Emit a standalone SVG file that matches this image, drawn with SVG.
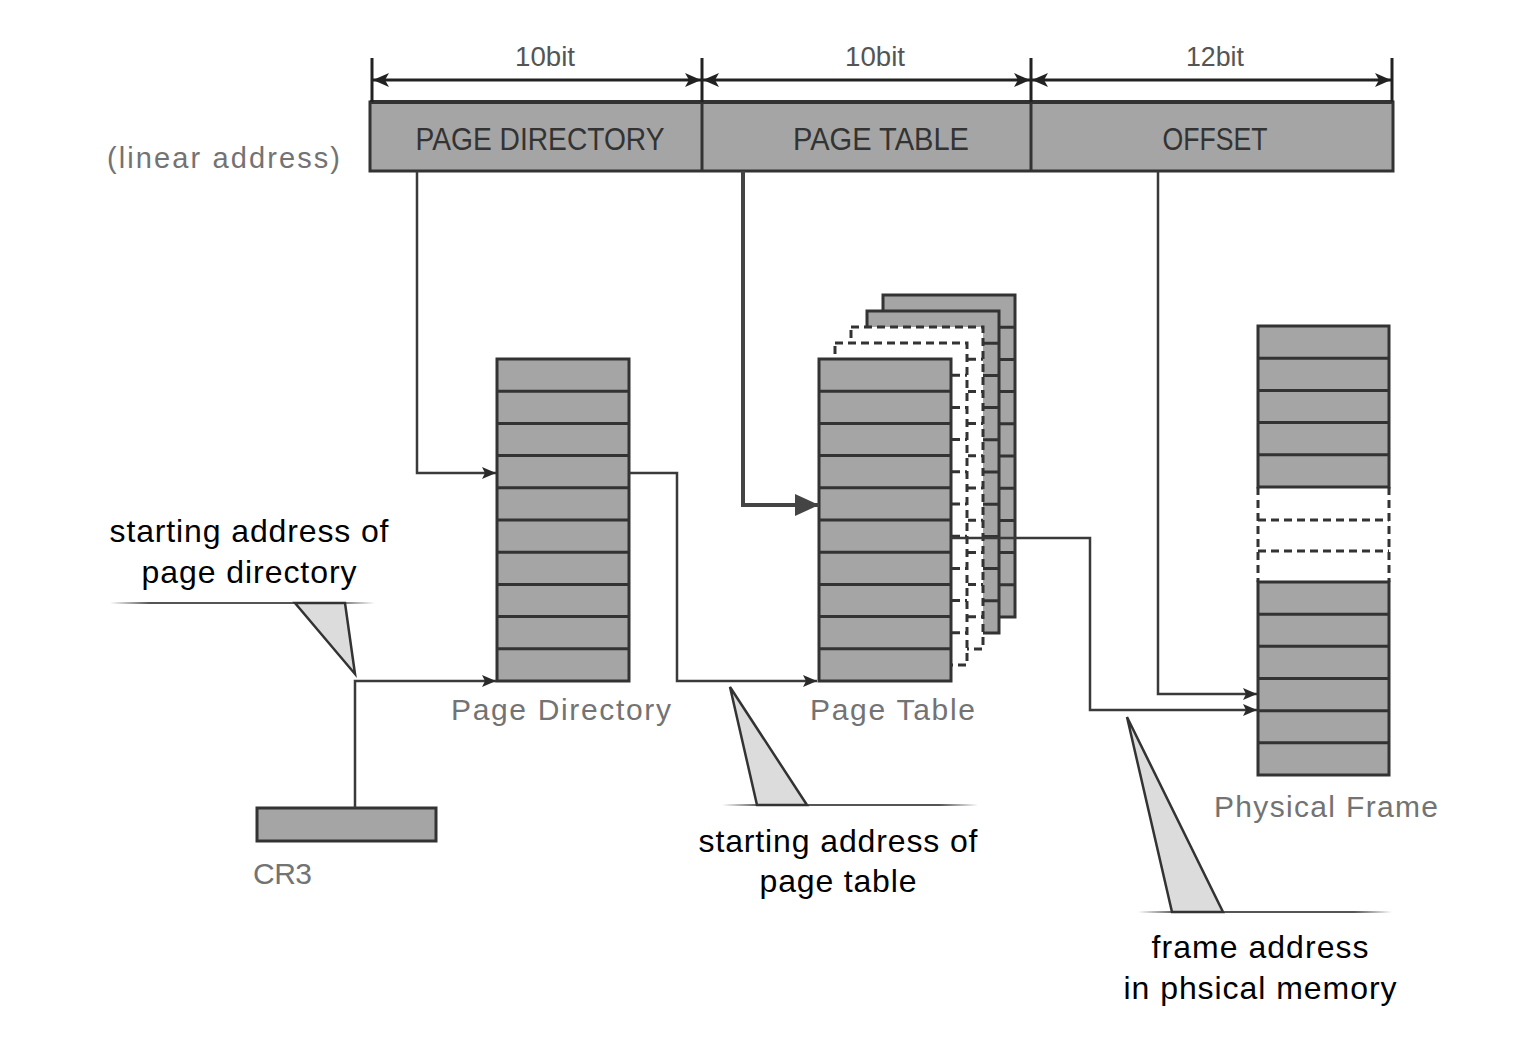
<svg xmlns="http://www.w3.org/2000/svg" xmlns:xlink="http://www.w3.org/1999/xlink" width="1540" height="1048" viewBox="0 0 1540 1048">
<style>
.box{fill:#a5a5a5;stroke:#333;stroke-width:3}
.dash{fill:#fff;stroke:#333;stroke-width:3;stroke-dasharray:8 5}
.conn{fill:none;stroke:#3a3a3a;stroke-width:2.5}
.dim{fill:none;stroke:#222;stroke-width:3}
.bartxt{font-family:"Liberation Sans",Arial,sans-serif;font-size:32px;fill:#333;text-anchor:middle}
.bit{font-family:"Liberation Sans",Arial,sans-serif;font-size:27px;fill:#555;text-anchor:middle}
.lbl{font-family:"Liberation Sans",Arial,sans-serif;font-size:30px;fill:#737373}
.call{font-family:"Liberation Sans",Arial,sans-serif;font-size:32px;fill:#000;text-anchor:middle}
.wedge{fill:#dcdcdc;stroke:#333;stroke-width:2.5;stroke-linejoin:miter}
</style>
<defs>
<marker id="ah" markerWidth="14" markerHeight="12" refX="14" refY="6" orient="auto-start-reverse" markerUnits="userSpaceOnUse"><path d="M0,0 L14,6 L0,12 L3,6 z" fill="#2a2a2a"/></marker>
<marker id="ahDim" markerWidth="16" markerHeight="14" refX="16" refY="7" orient="auto-start-reverse" markerUnits="userSpaceOnUse"><path d="M0,0 L16,7 L0,14 L4,7 z" fill="#222"/></marker>
<marker id="ahBig" markerWidth="24" markerHeight="22" refX="24" refY="11" orient="auto" markerUnits="userSpaceOnUse"><path d="M0,0 L24,11 L0,22 z" fill="#444"/></marker>
<linearGradient id="fade" x1="0" y1="0" x2="1" y2="0">
<stop offset="0" stop-color="#555" stop-opacity="0"/>
<stop offset="0.15" stop-color="#555"/>
<stop offset="0.85" stop-color="#555"/>
<stop offset="1" stop-color="#555" stop-opacity="0"/>
</linearGradient>
<g id="grid"><rect x="0" y="0" width="132" height="322"/><path d="M0 32.2H132M0 64.4H132M0 96.6H132M0 128.8H132M0 161H132M0 193.2H132M0 225.4H132M0 257.6H132M0 289.8H132"/></g>
</defs>
<rect width="1540" height="1048" fill="#fff"/>

<g id="linear-address">
<text class="lbl" x="107" y="168" textLength="233" lengthAdjust="spacing" style="font-size:29px">(linear address)</text>
<rect class="box" x="370" y="102" width="1023" height="69"/>
<line x1="370" y1="102" x2="1393" y2="102" stroke="#333" stroke-width="4"/>
<line x1="702" y1="102" x2="702" y2="171" stroke="#333" stroke-width="3"/>
<line x1="1031" y1="102" x2="1031" y2="171" stroke="#333" stroke-width="3"/>
<text class="bartxt" x="540" y="150" textLength="249" lengthAdjust="spacingAndGlyphs">PAGE DIRECTORY</text>
<text class="bartxt" x="881" y="150" textLength="176" lengthAdjust="spacingAndGlyphs">PAGE TABLE</text>
<text class="bartxt" x="1215" y="150" textLength="105" lengthAdjust="spacingAndGlyphs">OFFSET</text>
</g>

<g id="bit-widths">
<path class="dim" d="M372 58V102M702 58V102M1031 58V102M1392 58V102"/>
<line class="dim" x1="373" y1="80" x2="701" y2="80" marker-start="url(#ahDim)" marker-end="url(#ahDim)"/>
<line class="dim" x1="703" y1="80" x2="1030" y2="80" marker-start="url(#ahDim)" marker-end="url(#ahDim)"/>
<line class="dim" x1="1032" y1="80" x2="1391" y2="80" marker-start="url(#ahDim)" marker-end="url(#ahDim)"/>
<text class="bit" x="545" y="66" textLength="60" lengthAdjust="spacingAndGlyphs">10bit</text>
<text class="bit" x="875" y="66" textLength="60" lengthAdjust="spacingAndGlyphs">10bit</text>
<text class="bit" x="1215" y="66" textLength="58" lengthAdjust="spacingAndGlyphs">12bit</text>
</g>

<g id="page-directory">
<use href="#grid" class="box" x="497" y="359"/>
<text class="lbl" x="451" y="720" textLength="220" lengthAdjust="spacing">Page Directory</text>
</g>

<g id="page-table">
<use href="#grid" class="box" x="883" y="295"/>
<use href="#grid" class="box" x="867" y="311"/>
<use href="#grid" class="dash" x="851" y="327"/>
<use href="#grid" class="dash" x="835" y="343"/>
<use href="#grid" class="box" x="819" y="359"/>
<text class="lbl" x="810" y="720" textLength="165" lengthAdjust="spacing">Page Table</text>
</g>

<g id="physical-frame">
<rect x="1258" y="487" width="131" height="95" fill="#fff"/>
<path class="dash" style="fill:none" d="M1258 487V582M1389 487V582M1258 520H1389M1258 551H1389"/>
<rect class="box" x="1258" y="326" width="131" height="161"/>
<path class="box" d="M1258 358.2H1389M1258 390.4H1389M1258 422.6H1389M1258 454.8H1389"/>
<rect class="box" x="1258" y="582" width="131" height="193"/>
<path class="box" d="M1258 614.2H1389M1258 646.3H1389M1258 678.5H1389M1258 710.7H1389M1258 742.8H1389"/>
<text class="lbl" x="1214" y="817" textLength="224" lengthAdjust="spacing">Physical Frame</text>
</g>

<g id="cr3">
<rect class="box" x="257" y="808" width="179" height="33"/>
<text class="lbl" x="253" y="884" textLength="59" lengthAdjust="spacing">CR3</text>
</g>

<g id="connectors">
<path class="conn" d="M417 171V473H496" marker-end="url(#ah)"/>
<path class="conn" d="M743 171V505H819" style="stroke-width:4;stroke:#444" marker-end="url(#ahBig)"/>
<path class="conn" d="M1158 171V694H1257" marker-end="url(#ah)"/>
<path class="conn" d="M355 808V681H496" marker-end="url(#ah)"/>
<path class="conn" d="M629 473H677V681H817" marker-end="url(#ah)"/>
<path class="conn" d="M951 538H1090V710H1257" marker-end="url(#ah)"/>
</g>

<g id="callout-page-directory">
<rect x="110" y="602" width="265" height="2" fill="url(#fade)"/>
<polygon class="wedge" points="295,603 345,603 355,674"/>
<text class="call" x="249" y="542" textLength="279" lengthAdjust="spacing">starting address of</text>
<text class="call" x="249" y="583" textLength="215" lengthAdjust="spacing">page directory</text>
</g>

<g id="callout-page-table">
<rect x="722" y="804" width="256" height="2" fill="url(#fade)"/>
<polygon class="wedge" points="757,805 807,805 730,687"/>
<text class="call" x="838" y="852" textLength="279" lengthAdjust="spacing">starting address of</text>
<text class="call" x="838" y="892" textLength="157" lengthAdjust="spacing">page table</text>
</g>

<g id="callout-frame-address">
<rect x="1138" y="911" width="254" height="2" fill="url(#fade)"/>
<polygon class="wedge" points="1172,912 1223,912 1127,717"/>
<text class="call" x="1260" y="958" textLength="217" lengthAdjust="spacing">frame address</text>
<text class="call" x="1260" y="999" textLength="273" lengthAdjust="spacing">in phsical memory</text>
</g>
</svg>
